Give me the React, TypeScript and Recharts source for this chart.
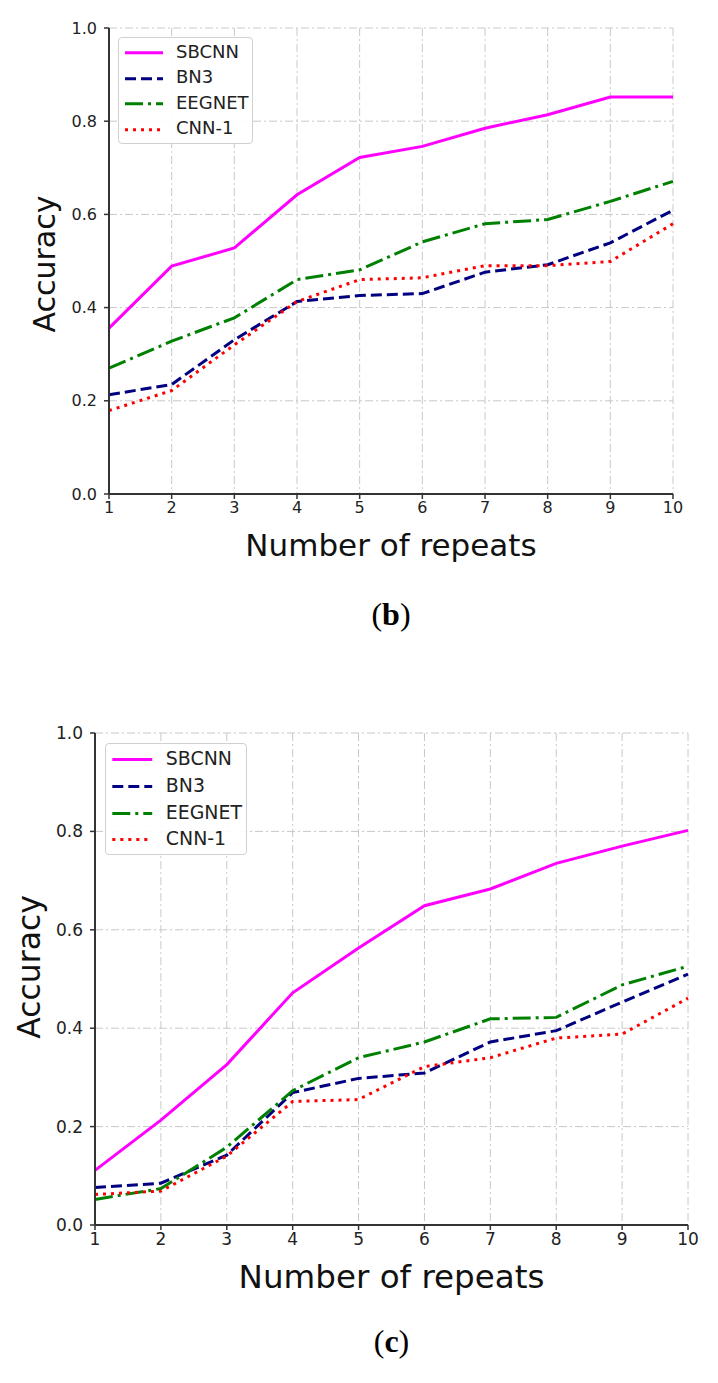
import React from "react";
import { CartesianGrid, Line, LineChart, XAxis, YAxis } from "recharts";

const repeats = [1, 2, 3, 4, 5, 6, 7, 8, 9, 10];
const yTicks = [0, 0.2, 0.4, 0.6, 0.8, 1.0];

// panel (b)
const sbcnnB = [0.356, 0.489, 0.528, 0.642, 0.722, 0.746, 0.785, 0.814, 0.852, 0.852];
const bn3B = [0.213, 0.235, 0.331, 0.413, 0.426, 0.43, 0.476, 0.492, 0.539, 0.609];
const eegnetB = [0.27, 0.328, 0.378, 0.46, 0.481, 0.541, 0.58, 0.589, 0.628, 0.671];
const cnn1B = [0.179, 0.222, 0.32, 0.413, 0.46, 0.464, 0.49, 0.49, 0.499, 0.58];

// panel (c)
const sbcnnC = [0.111, 0.213, 0.326, 0.472, 0.563, 0.649, 0.683, 0.735, 0.77, 0.802];
const bn3C = [0.076, 0.085, 0.142, 0.269, 0.298, 0.309, 0.372, 0.395, 0.453, 0.51];
const eegnetC = [0.052, 0.074, 0.158, 0.273, 0.34, 0.372, 0.419, 0.422, 0.488, 0.526];
const cnn1C = [0.062, 0.069, 0.14, 0.251, 0.255, 0.322, 0.34, 0.38, 0.388, 0.461];

const seriesStyle = [
  { key: "SBCNN", color: "#ff00ff", dash: undefined },
  { key: "BN3", color: "#000080", dash: "11 5" },
  { key: "EEGNET", color: "#008000", dash: "18 5 3 5" },
  { key: "CNN-1", color: "#ff0000", dash: "3 5" },
];

const FONT = "'DejaVu Sans', sans-serif";

type PanelProps = {
  top: number;
  plotLeft: number;
  plotRight: number;
  plotTop: number;
  plotBottom: number;
  scale: number;
  values: number[][];
  legend: { left: number; top: number };
  letter: string;
  letterY: number;
  xLabelY: number;
  yLabelX: number;
  yLabelY: number;
};

function Panel(p: PanelProps) {
  const rows = repeats.map((r, i) => ({
    x: r,
    SBCNN: p.values[0][i],
    BN3: p.values[1][i],
    EEGNET: p.values[2][i],
    "CNN-1": p.values[3][i],
  }));
  const height = 620;
  const yAxisW = 60;
  const xAxisH = 30;
  const tickFont = Math.round(16 * p.scale);
  const rowH = 25.5 * p.scale;

  return (
    <>
      <div style={{ position: "absolute", left: 0, top: p.top }}>
        <LineChart
          width={718}
          height={height}
          data={rows}
          margin={{
            top: p.plotTop,
            left: p.plotLeft - yAxisW,
            right: 718 - p.plotRight,
            bottom: height - p.plotBottom - xAxisH,
          }}
        >
          <CartesianGrid stroke="#c8c8c8" strokeDasharray="8 3 2 3" strokeWidth={1} />
          <XAxis
            dataKey="x"
            type="number"
            domain={[1, 10]}
            ticks={repeats}
            height={xAxisH}
            tickSize={5}
            tickMargin={3}
            axisLine={{ stroke: "#333", strokeWidth: 2 }}
            tickLine={{ stroke: "#333", strokeWidth: 1.5 }}
            tick={{ fill: "#222", fontSize: tickFont, fontFamily: FONT }}
            interval={0}
          />
          <YAxis
            type="number"
            domain={[0, 1]}
            ticks={yTicks}
            width={yAxisW}
            tickSize={5}
            tickMargin={7}
            axisLine={{ stroke: "#333", strokeWidth: 2 }}
            tickLine={{ stroke: "#333", strokeWidth: 1.5 }}
            tick={{ fill: "#222", fontSize: tickFont, fontFamily: FONT }}
            tickFormatter={(v: number) => v.toFixed(1)}
            interval={0}
          />
          {seriesStyle.map((s) => (
            <Line
              key={s.key}
              dataKey={s.key}
              stroke={s.color}
              strokeWidth={3}
              strokeDasharray={s.dash}
              dot={false}
              activeDot={false}
              type="linear"
              isAnimationActive={false}
            />
          ))}
        </LineChart>
      </div>

      {/* legend */}
      <div
        style={{
          position: "absolute",
          left: p.legend.left,
          top: p.legend.top,
          width: 135 * p.scale,
          height: 107 * p.scale,
          border: "1px solid #d0d0d0",
          borderRadius: 4,
          background: "rgba(255,255,255,0.9)",
          boxSizing: "border-box",
          paddingTop: 1 * p.scale,
        }}
      >
        {seriesStyle.map((s) => (
          <div key={s.key} style={{ display: "flex", alignItems: "center", height: rowH }}>
            <svg width={48 * p.scale} height={rowH} style={{ flex: "none" }}>
              <line
                x1={6 * p.scale}
                x2={44 * p.scale}
                y1={rowH / 2 + 1}
                y2={rowH / 2 + 1}
                stroke={s.color}
                strokeWidth={3}
                strokeDasharray={s.dash}
              />
            </svg>
            <span
              style={{
                marginLeft: 9 * p.scale,
                fontFamily: FONT,
                fontSize: 18 * p.scale,
                color: "#222",
                lineHeight: 1,
              }}
            >
              {s.key}
            </span>
          </div>
        ))}
      </div>

      {/* axis titles */}
      <div
        style={{
          position: "absolute",
          left: 0,
          width: 718,
          paddingLeft: p.plotLeft,
          paddingRight: 718 - p.plotRight,
          boxSizing: "border-box",
          top: p.xLabelY - 18 * p.scale,
          textAlign: "center",
          fontFamily: FONT,
          fontSize: 31 * p.scale,
          lineHeight: `${36 * p.scale}px`,
          color: "#111",
        }}
      >
        Number of repeats
      </div>
      <div
        style={{
          position: "absolute",
          left: p.yLabelX - 150,
          top: p.yLabelY - 18 * p.scale,
          width: 300,
          textAlign: "center",
          transform: "rotate(-90deg)",
          fontFamily: FONT,
          fontSize: 30 * p.scale,
          lineHeight: `${36 * p.scale}px`,
          color: "#111",
        }}
      >
        Accuracy
      </div>
      <div
        style={{
          position: "absolute",
          left: 0,
          width: 718,
          paddingLeft: p.plotLeft,
          paddingRight: 718 - p.plotRight,
          boxSizing: "border-box",
          top: p.letterY - 20,
          textAlign: "center",
          fontFamily: "'Liberation Serif', 'Times New Roman', serif",
          fontSize: 32,
          lineHeight: "40px",
          color: "#000",
        }}
      >
        (<b>{p.letter}</b>)
      </div>
    </>
  );
}

export default function App() {
  return (
    <div
      style={{
        position: "absolute",
        left: 0,
        top: 0,
        width: 718,
        height: 1383,
        background: "#fff",
        overflow: "hidden",
      }}
    >
      <Panel
        top={0}
        plotLeft={109}
        plotRight={673}
        plotTop={28}
        plotBottom={494}
        scale={1}
        values={[sbcnnB, bn3B, eegnetB, cnn1B]}
        legend={{ left: 118, top: 37 }}
        letter="b"
        letterY={614}
        xLabelY={545}
        yLabelX={45}
        yLabelY={264}
      />
      <Panel
        top={700}
        plotLeft={95}
        plotRight={688}
        plotTop={33}
        plotBottom={525}
        scale={1.05}
        values={[sbcnnC, bn3C, eegnetC, cnn1C]}
        legend={{ left: 105, top: 743 }}
        letter="c"
        letterY={1341}
        xLabelY={1278}
        yLabelX={30}
        yLabelY={967}
      />
    </div>
  );
}
